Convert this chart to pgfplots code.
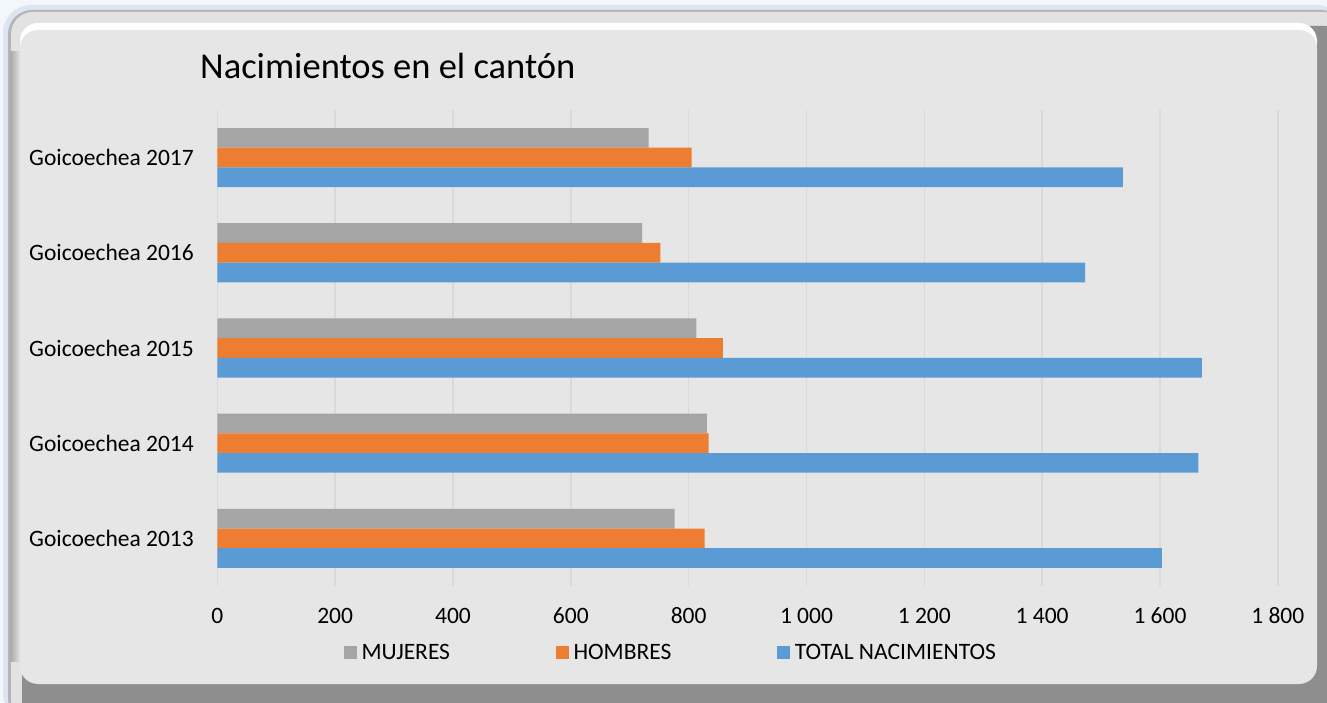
\documentclass[border=0pt]{standalone}
\usepackage{pgfplots}
\pgfplotsset{compat=1.18}
\usepackage{fontspec}
\setmainfont{Carlito}
\definecolor{cgray}{HTML}{A5A5A5}
\definecolor{corange}{HTML}{ED7D31}
\definecolor{cblue}{HTML}{5B9BD5}
\definecolor{cgrid}{HTML}{D9D9D9}
\definecolor{face}{HTML}{E6E6E6}
\definecolor{bgc}{HTML}{F3F6FB}
\definecolor{glow}{HTML}{DDE5F3}
\definecolor{frameA}{HTML}{B5B5B5}
\definecolor{frameL}{HTML}{E2E2E2}
\definecolor{frameB}{HTML}{8E8E8E}
\definecolor{frameS}{HTML}{A8A8A8}
\pgfplotsset{sq legend/.style={legend image code/.code={\fill[##1] (0bp,-6.5bp) rectangle (13bp,6.5bp);}}}
\begin{document}
\begin{tikzpicture}[x=1bp,y=1bp]
\useasboundingbox (0,0) rectangle (1327,702);
\fill[bgc] (0,0) rectangle (1327,702);
\fill[glow, rounded corners=28bp] (3,-20) rectangle (1345,697);
\fill[frameA, rounded corners=24bp] (8,-20) rectangle (1345,692);
\fill[frameL, rounded corners=22bp] (11,-20) rectangle (1345,690);
\fill[frameB, rounded corners=20bp] (22,-20) rectangle (1345,676);
\shade[left color=frameS, right color=frameL] (10,40) rectangle (20,650);
\fill[white, rounded corners=18bp] (20,640) rectangle (1317,679);
\fill[face, rounded corners=18bp] (20,18) rectangle (1317,672);
\node[anchor=base west, inner sep=0pt, font=\fontsize{36.5bp}{40bp}\selectfont] at (200,623.7) {Nacimientos en el cantón};
\begin{axis}[
  at={(217.3bp,116bp)}, anchor=south west,
  width=1060.5bp, height=476bp, scale only axis,
  xbar, bar width=19.7bp,
  xmin=0, xmax=1800, ymin=-0.5, ymax=4.5,
  xtick={0,200,...,1800},
  xticklabels={0,200,400,600,800,1 000,1 200,1 400,1 600,1 800},
  ytick={0,1,2,3,4},
  yticklabels={Goicoechea 2013,Goicoechea 2014,Goicoechea 2015,Goicoechea 2016,Goicoechea 2017},
  xmajorgrids, major grid style={cgrid, line width=1.4bp},
  axis line style={draw=none}, major tick length=0pt,
  tick label style={font=\fontsize{23.5bp}{26bp}\selectfont, text=black},
  xticklabel style={anchor=base, yshift=-38bp, inner sep=0pt},
  yticklabel style={anchor=base east, inner sep=0pt, xshift=-23.3bp, yshift=-8.2bp},
  legend columns=3,
  legend style={at={(rel axis cs:0.1195,-0.139)}, anchor=west, draw=none, fill=none,
    inner sep=0pt, outer sep=0pt, font=\fontsize{23.5bp}{26bp}\selectfont,
    nodes={inner sep=0pt},
    /tikz/every odd column/.append style={column sep=4.5bp},
    /tikz/every even column/.append style={column sep=106bp}},
  legend cell align=left,
]
\addplot[fill=cgray, draw=none, bar shift=19.7bp, sq legend] coordinates {(776,0) (831,1) (813,2) (721,3) (732,4)};
\addplot[fill=corange, draw=none, bar shift=0bp, sq legend] coordinates {(827,0) (834,1) (858,2) (752,3) (805,4)};
\addplot[fill=cblue, draw=none, bar shift=-19.7bp, sq legend] coordinates {(1603,0) (1665,1) (1671,2) (1473,3) (1537,4)};
\legend{MUJERES,HOMBRES,TOTAL NACIMIENTOS}
\end{axis}
\end{tikzpicture}
\end{document}
